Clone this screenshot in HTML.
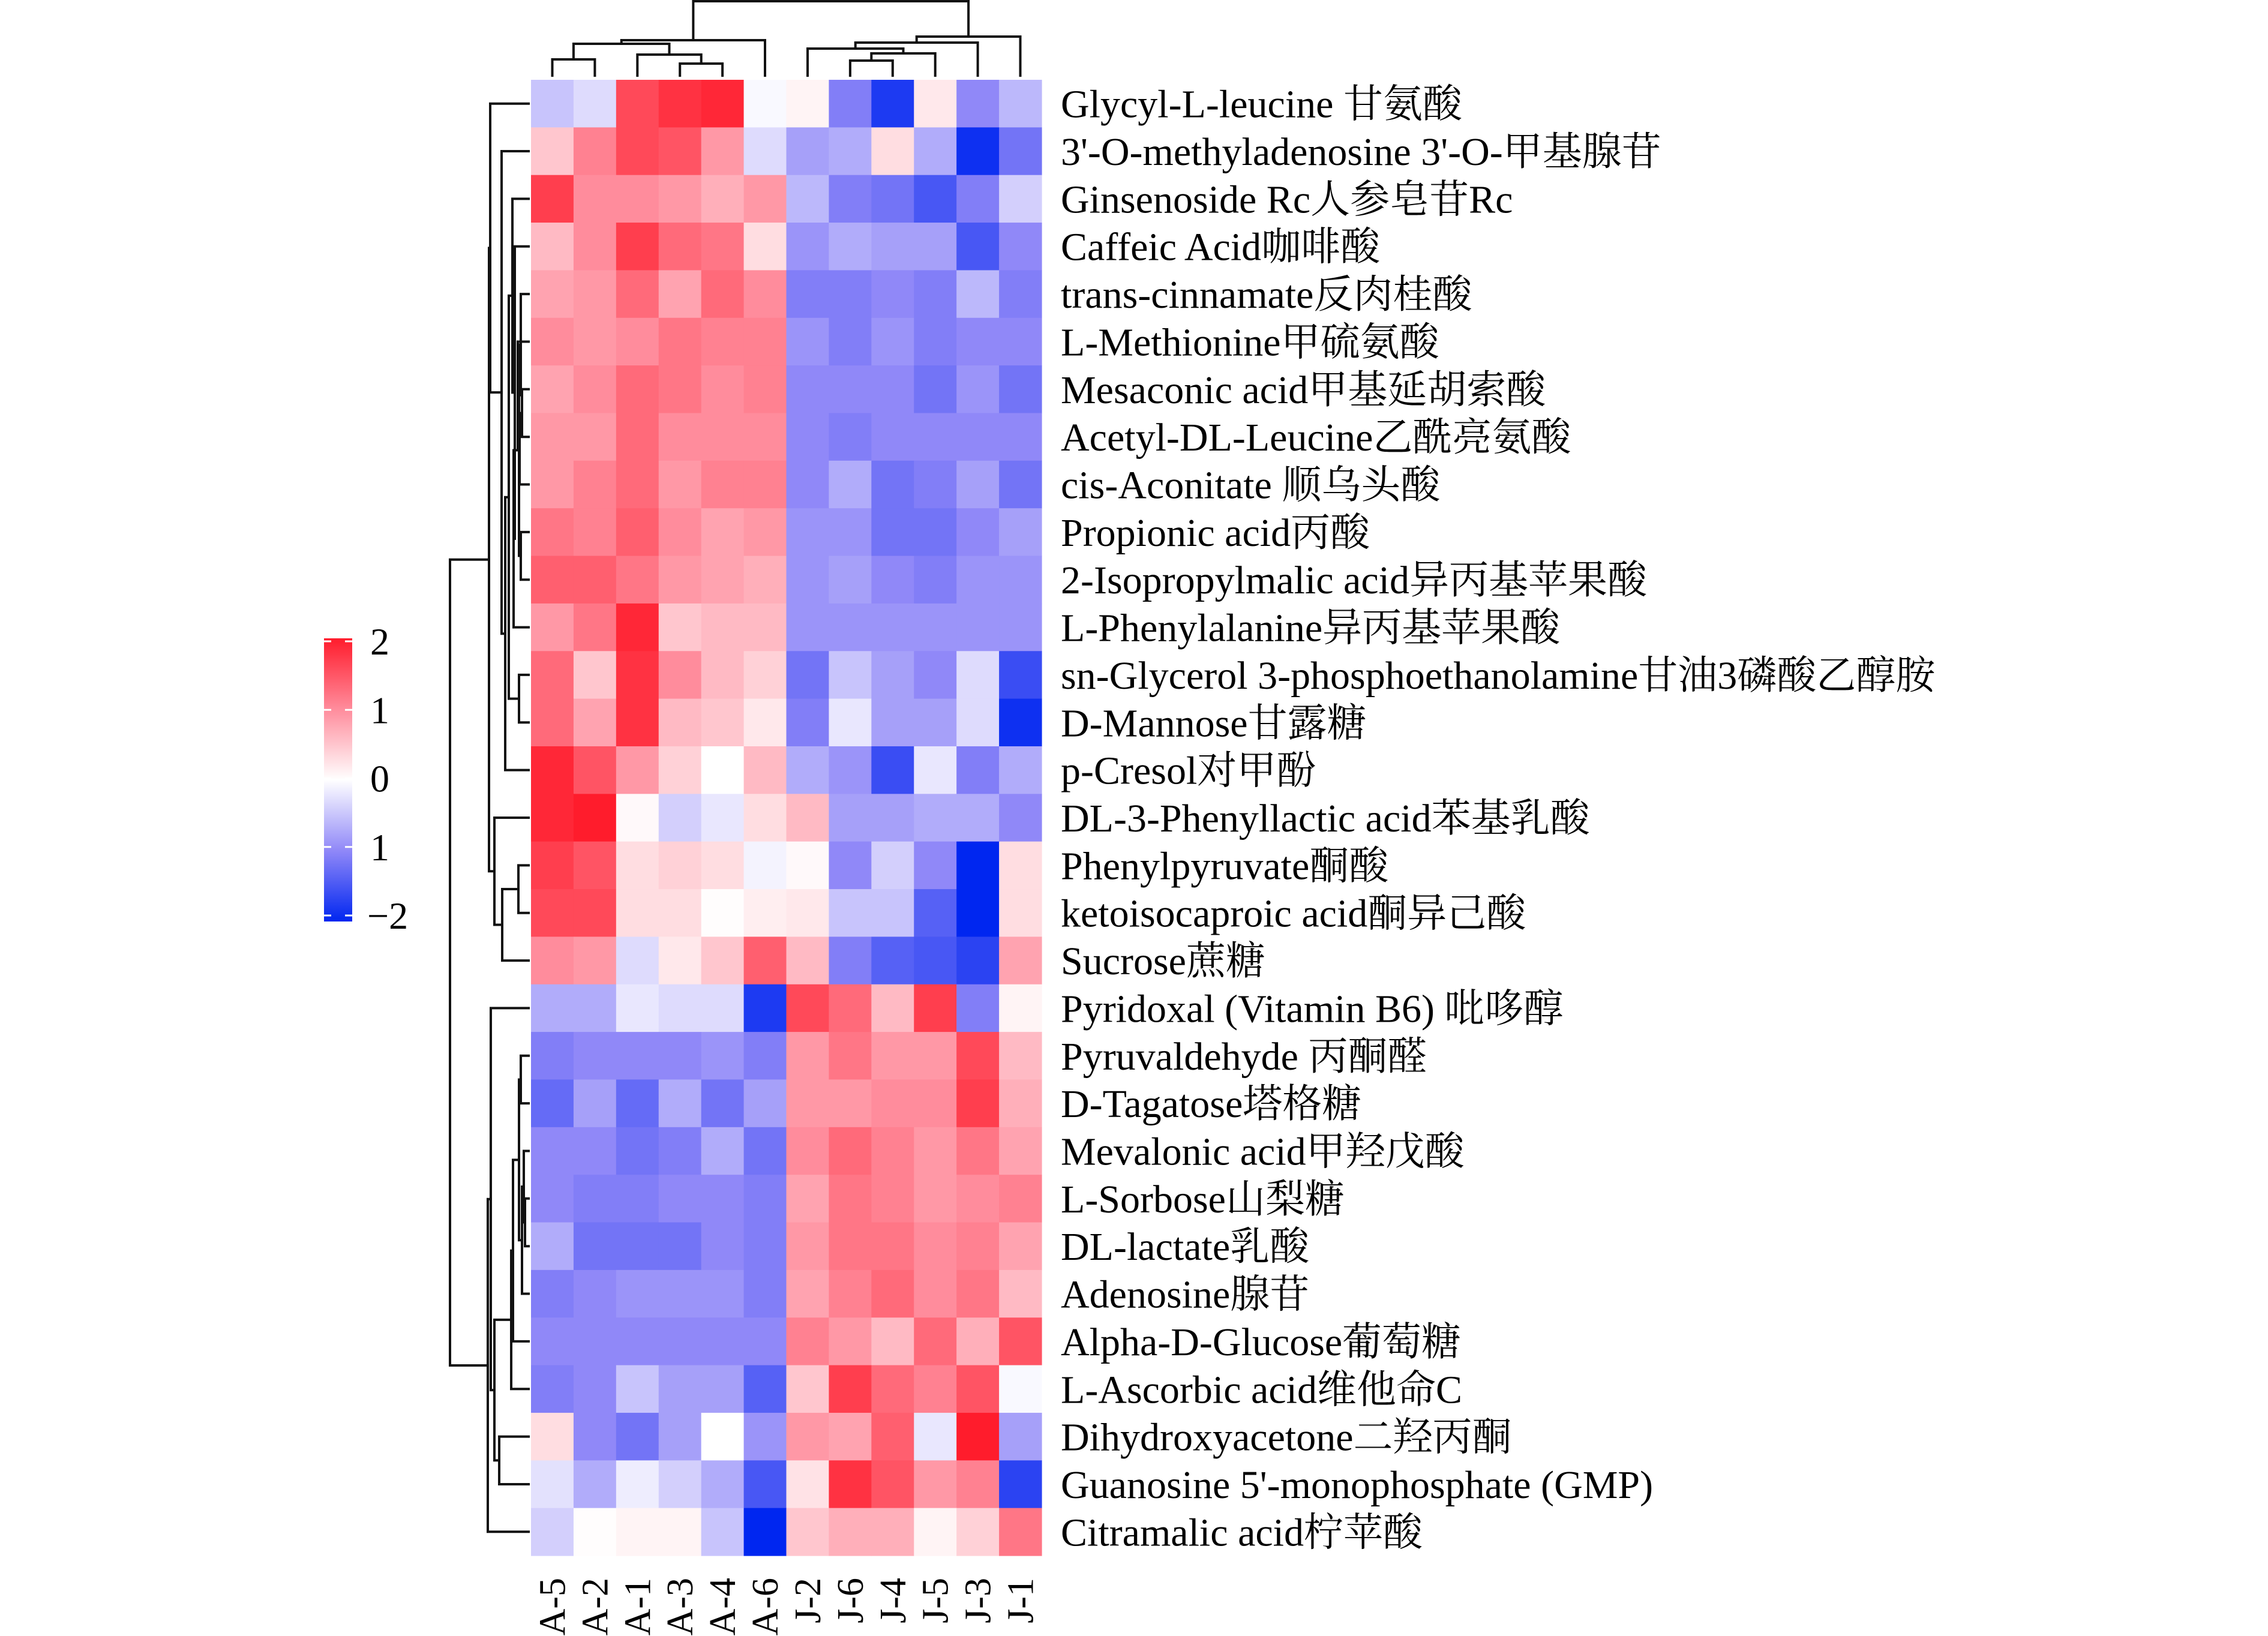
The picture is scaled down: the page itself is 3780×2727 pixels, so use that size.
<!DOCTYPE html>
<html><head><meta charset="utf-8">
<style>
html,body{margin:0;padding:0;background:#fff;}
svg{display:block;}
text{font-family:"Liberation Serif","Noto Serif CJK SC","Noto Sans CJK SC",serif;fill:#000;}
</style></head>
<body>
<svg id="chart" width="3780" height="2727" viewBox="0 0 3780 2727" xmlns="http://www.w3.org/2000/svg">
<defs>
<linearGradient id="cbgrad" x1="0" y1="0" x2="0" y2="1">
<stop offset="0" stop-color="#ff1c2c"/>
<stop offset="0.25" stop-color="#ff8c9c"/>
<stop offset="0.5" stop-color="#ffffff"/>
<stop offset="0.75" stop-color="#9088f8"/>
<stop offset="1" stop-color="#0026f0"/>
</linearGradient>
</defs>
<g id="cells"></g>
<g id="rowlabels"></g>
<g id="collabels"></g>
<g id="rowtree"></g>
<g id="coltree"></g>
<g id="legend">
<rect x="540" y="1064" width="47" height="472" fill="url(#cbgrad)"/>
</g>
</svg>
<script>
const columns = ["A-5","A-2","A-1","A-3","A-4","A-6","J-2","J-6","J-4","J-5","J-3","J-1"];
const rows = ["Glycyl-L-leucine 甘氨酸","3'-O-methyladenosine 3'-O-甲基腺苷","Ginsenoside Rc人参皂苷Rc","Caffeic Acid咖啡酸","trans-cinnamate反肉桂酸","L-Methionine甲硫氨酸","Mesaconic acid甲基延胡索酸","Acetyl-DL-Leucine乙酰亮氨酸","cis-Aconitate 顺乌头酸","Propionic acid丙酸","2-Isopropylmalic acid异丙基苹果酸","L-Phenylalanine异丙基苹果酸","sn-Glycerol 3-phosphoethanolamine甘油3磷酸乙醇胺","D-Mannose甘露糖","p-Cresol对甲酚","DL-3-Phenyllactic acid苯基乳酸","Phenylpyruvate酮酸","ketoisocaproic acid酮异己酸","Sucrose蔗糖","Pyridoxal (Vitamin B6) 吡哆醇","Pyruvaldehyde 丙酮醛","D-Tagatose塔格糖","Mevalonic acid甲羟戊酸","L-Sorbose山梨糖","DL-lactate乳酸","Adenosine腺苷","Alpha-D-Glucose葡萄糖","L-Ascorbic acid维他命C","Dihydroxyacetone二羟丙酮","Guanosine 5'-monophosphate (GMP)","Citramalic acid柠苹酸"];
const values = [
[-0.5,-0.3,1.6,1.8,1.9,-0.05,0.1,-1.1,-1.8,0.2,-1.0,-0.6],
[0.5,1.1,1.6,1.5,0.9,-0.3,-0.8,-0.7,0.3,-0.7,-1.9,-1.2],
[1.7,1.0,1.0,0.9,0.7,0.9,-0.6,-1.1,-1.2,-1.5,-1.1,-0.4],
[0.6,1.0,1.7,1.3,1.2,0.3,-0.9,-0.7,-0.8,-0.8,-1.5,-1.0],
[0.8,0.9,1.3,0.8,1.3,1.0,-1.1,-1.1,-1.0,-1.1,-0.6,-1.1],
[1.0,0.9,1.0,1.2,1.1,1.1,-0.9,-1.1,-0.9,-1.1,-1.0,-1.0],
[0.8,1.0,1.3,1.2,1.0,1.1,-1.0,-1.0,-1.0,-1.2,-0.9,-1.2],
[0.9,0.9,1.3,1.0,1.0,1.0,-1.0,-1.1,-1.0,-1.0,-1.0,-1.0],
[0.9,1.1,1.3,0.9,1.1,1.1,-1.0,-0.7,-1.2,-1.1,-0.8,-1.2],
[1.2,1.1,1.4,1.0,0.8,0.9,-0.9,-0.9,-1.2,-1.2,-1.0,-0.8],
[1.4,1.4,1.2,0.9,0.8,0.7,-0.9,-0.8,-1.0,-1.1,-0.9,-0.9],
[0.9,1.2,1.9,0.5,0.6,0.6,-0.9,-0.9,-0.9,-0.9,-0.9,-0.9],
[1.3,0.5,1.8,1.0,0.6,0.4,-1.2,-0.5,-0.8,-1.0,-0.3,-1.6],
[1.3,0.8,1.8,0.6,0.5,0.2,-1.1,-0.2,-0.8,-0.8,-0.3,-1.9],
[1.9,1.5,0.9,0.4,0.0,0.6,-0.7,-0.9,-1.6,-0.2,-1.1,-0.7],
[1.9,2.0,0.05,-0.4,-0.2,0.3,0.6,-0.8,-0.8,-0.7,-0.7,-1.0],
[1.7,1.5,0.3,0.4,0.3,-0.1,0.05,-1.0,-0.4,-1.0,-2.0,0.3],
[1.6,1.6,0.3,0.3,0.02,0.15,0.2,-0.5,-0.5,-1.4,-2.0,0.3],
[1.0,0.9,-0.3,0.2,0.5,1.4,0.6,-1.1,-1.4,-1.5,-1.7,0.8],
[-0.7,-0.7,-0.2,-0.3,-0.3,-1.8,1.6,1.3,0.6,1.7,-1.1,0.1],
[-1.1,-1.0,-1.0,-1.0,-0.9,-1.1,0.9,1.2,0.9,0.9,1.6,0.6],
[-1.3,-0.8,-1.3,-0.7,-1.2,-0.8,0.9,0.9,1.0,1.0,1.7,0.7],
[-1.0,-1.0,-1.2,-1.1,-0.7,-1.2,1.0,1.3,1.1,0.9,1.2,0.8],
[-1.0,-1.1,-1.1,-1.0,-1.0,-1.1,0.8,1.2,1.1,0.9,1.0,1.1],
[-0.7,-1.2,-1.2,-1.2,-1.0,-1.1,0.9,1.2,1.2,1.0,1.1,0.8],
[-1.1,-1.0,-0.9,-0.9,-0.9,-1.1,0.8,1.1,1.3,1.0,1.2,0.6],
[-1.0,-1.0,-1.0,-1.0,-1.0,-1.0,1.1,0.9,0.6,1.3,0.7,1.5],
[-1.1,-1.0,-0.5,-0.8,-0.8,-1.4,0.5,1.7,1.3,1.1,1.5,-0.05],
[0.3,-1.0,-1.2,-0.8,0.0,-0.9,0.9,0.8,1.4,-0.2,2.0,-0.8],
[-0.25,-0.7,-0.15,-0.4,-0.7,-1.5,0.25,1.8,1.5,0.9,1.1,-1.7],
[-0.4,0.02,0.1,0.1,-0.5,-2.0,0.5,0.7,0.7,0.1,0.4,1.2]
];
const legendTicks = [2,1,0,-1,-2];
const legendTickLabels = ["2","1","0","1","\u22122"];
const colMerges = [[0,1,29],[3,4,22],[2,"n1",37],["n0","n2",55],["n3",5,61],[7,8,27],["n5",9,39],[6,"n6",47],["n7",10,57],["n8",11,67],["n4","n9",126]];
const rowMerges = [
[6,7,13],["n0",8,17],[5,"n1",20],[4,"n2",15],[9,10,15],["n4","n3",18],["n5",11,27],[3,"n6",25],[2,"n7",29],[12,13,18],["n8","n9",35],["n10",14,41],[1,"n11",47],[0,"n12",66],
[16,17,19],["n14",18,46],[15,"n15",59],["n13","n16",68],
[23,24,8],[22,"n18",10],["n19",25,13],[20,21,15],["n21","n20",18],["n22",26,28],["n23",27,31],[28,29,51],["n24","n25",59],[19,"n26",65],["n27",30,70],["n17","n28",133]
];

const NS="http://www.w3.org/2000/svg";
const X0=885, X1=1736, Y0=133, Y1=2593;
const cw=(X1-X0)/columns.length, rh=(Y1-Y0)/rows.length;
function xCol(i){return X0+cw*(i+0.5);}
function yRow(i){return Y0+rh*(i+0.5);}
const stops=[[-2,[0,38,240]],[-1,[144,136,248]],[0,[255,255,255]],[1,[255,140,156]],[2,[255,28,44]]];
function color(v){
  v=Math.max(-2,Math.min(2,v));
  for(let k=0;k<stops.length-1;k++){
    const [a,ca]=stops[k],[b,cb]=stops[k+1];
    if(v<=b){const t=(v-a)/(b-a);
      return "rgb("+ca.map((c,j)=>Math.round(c+(cb[j]-c)*t)).join(",")+")";}
  }
  return "rgb(255,28,44)";
}
function mk(tag,attrs,parent){const e=document.createElementNS(NS,tag);for(const k in attrs)e.setAttribute(k,attrs[k]);parent.appendChild(e);return e;}

const gc=document.getElementById("cells");
values.forEach((row,r)=>row.forEach((v,c)=>{
  const e=mk("rect",{x:(X0+cw*c).toFixed(2),y:(Y0+rh*r).toFixed(2),width:(cw+0.6).toFixed(2),height:(rh+0.6).toFixed(2),fill:color(v)},gc);
  
  
}));

const gr=document.getElementById("rowlabels");
rows.forEach((t,r)=>{
  const e=mk("text",{x:1768,y:(yRow(r)+23).toFixed(1),"font-size":66},gr);
  e.textContent=t;
  
  
});
const gcl=document.getElementById("collabels");
columns.forEach((t,c)=>{
  const x=xCol(c)+21, y=2630;
  const e=mk("text",{x:0,y:0,"font-size":62,"text-anchor":"end",transform:"translate("+x.toFixed(1)+","+y+") rotate(-90)"},gcl);
  e.textContent=t;
  
  
});

function buildTree(merges,posFn){
  const nodes=[];
  function get(id){ if(typeof id==="number") return {p:posFn(id),h:0}; return nodes[parseInt(id.slice(1))]; }
  merges.forEach(m=>{const a=get(m[0]),b=get(m[1]);nodes.push({a,b,h:m[2],p:(a.p+b.p)/2});});
  return nodes;
}
const colNodes=buildTree(colMerges,xCol);
const gct=document.getElementById("coltree");
const colLeafY=128;
function cy(h){return colLeafY-h;}
colNodes.forEach(n=>{
  const d="M"+n.a.p.toFixed(1)+","+cy(n.a.h)+"V"+cy(n.h)+"H"+n.b.p.toFixed(1)+"V"+cy(n.b.h);
  const e=mk("path",{d:d,fill:"none",stroke:"#111",'stroke-width':4},gct);
  
  
});
const rowNodes=buildTree(rowMerges,yRow);
const grt=document.getElementById("rowtree");
const rowLeafX=883;
function rx(h){return rowLeafX-h;}
rowNodes.forEach(n=>{
  const d="M"+rx(n.a.h)+","+n.a.p.toFixed(1)+"H"+rx(n.h)+"V"+n.b.p.toFixed(1)+"H"+rx(n.b.h);
  const e=mk("path",{d:d,fill:"none",stroke:"#111",'stroke-width':4},grt);
  
  
});

const gl=document.getElementById("legend");
const LT=1069, LB=1526;
function ly(v){return LT+(2-v)/4*(LB-LT);}
legendTicks.forEach((v,i)=>{
  const y=ly(v);
  const t1=mk("line",{x1:540,x2:552,y1:y,y2:y,stroke:"#fff","stroke-width":3},gl);
  
  
  const t2=mk("line",{x1:575,x2:587,y1:y,y2:y,stroke:"#fff","stroke-width":3},gl);
  
  
  const tx=mk("text",{x:legendTickLabels[i].length>1?612:617,y:(y+22).toFixed(1),"font-size":64},gl);
  tx.textContent=legendTickLabels[i];
  
  
});
</script>
</body></html>
